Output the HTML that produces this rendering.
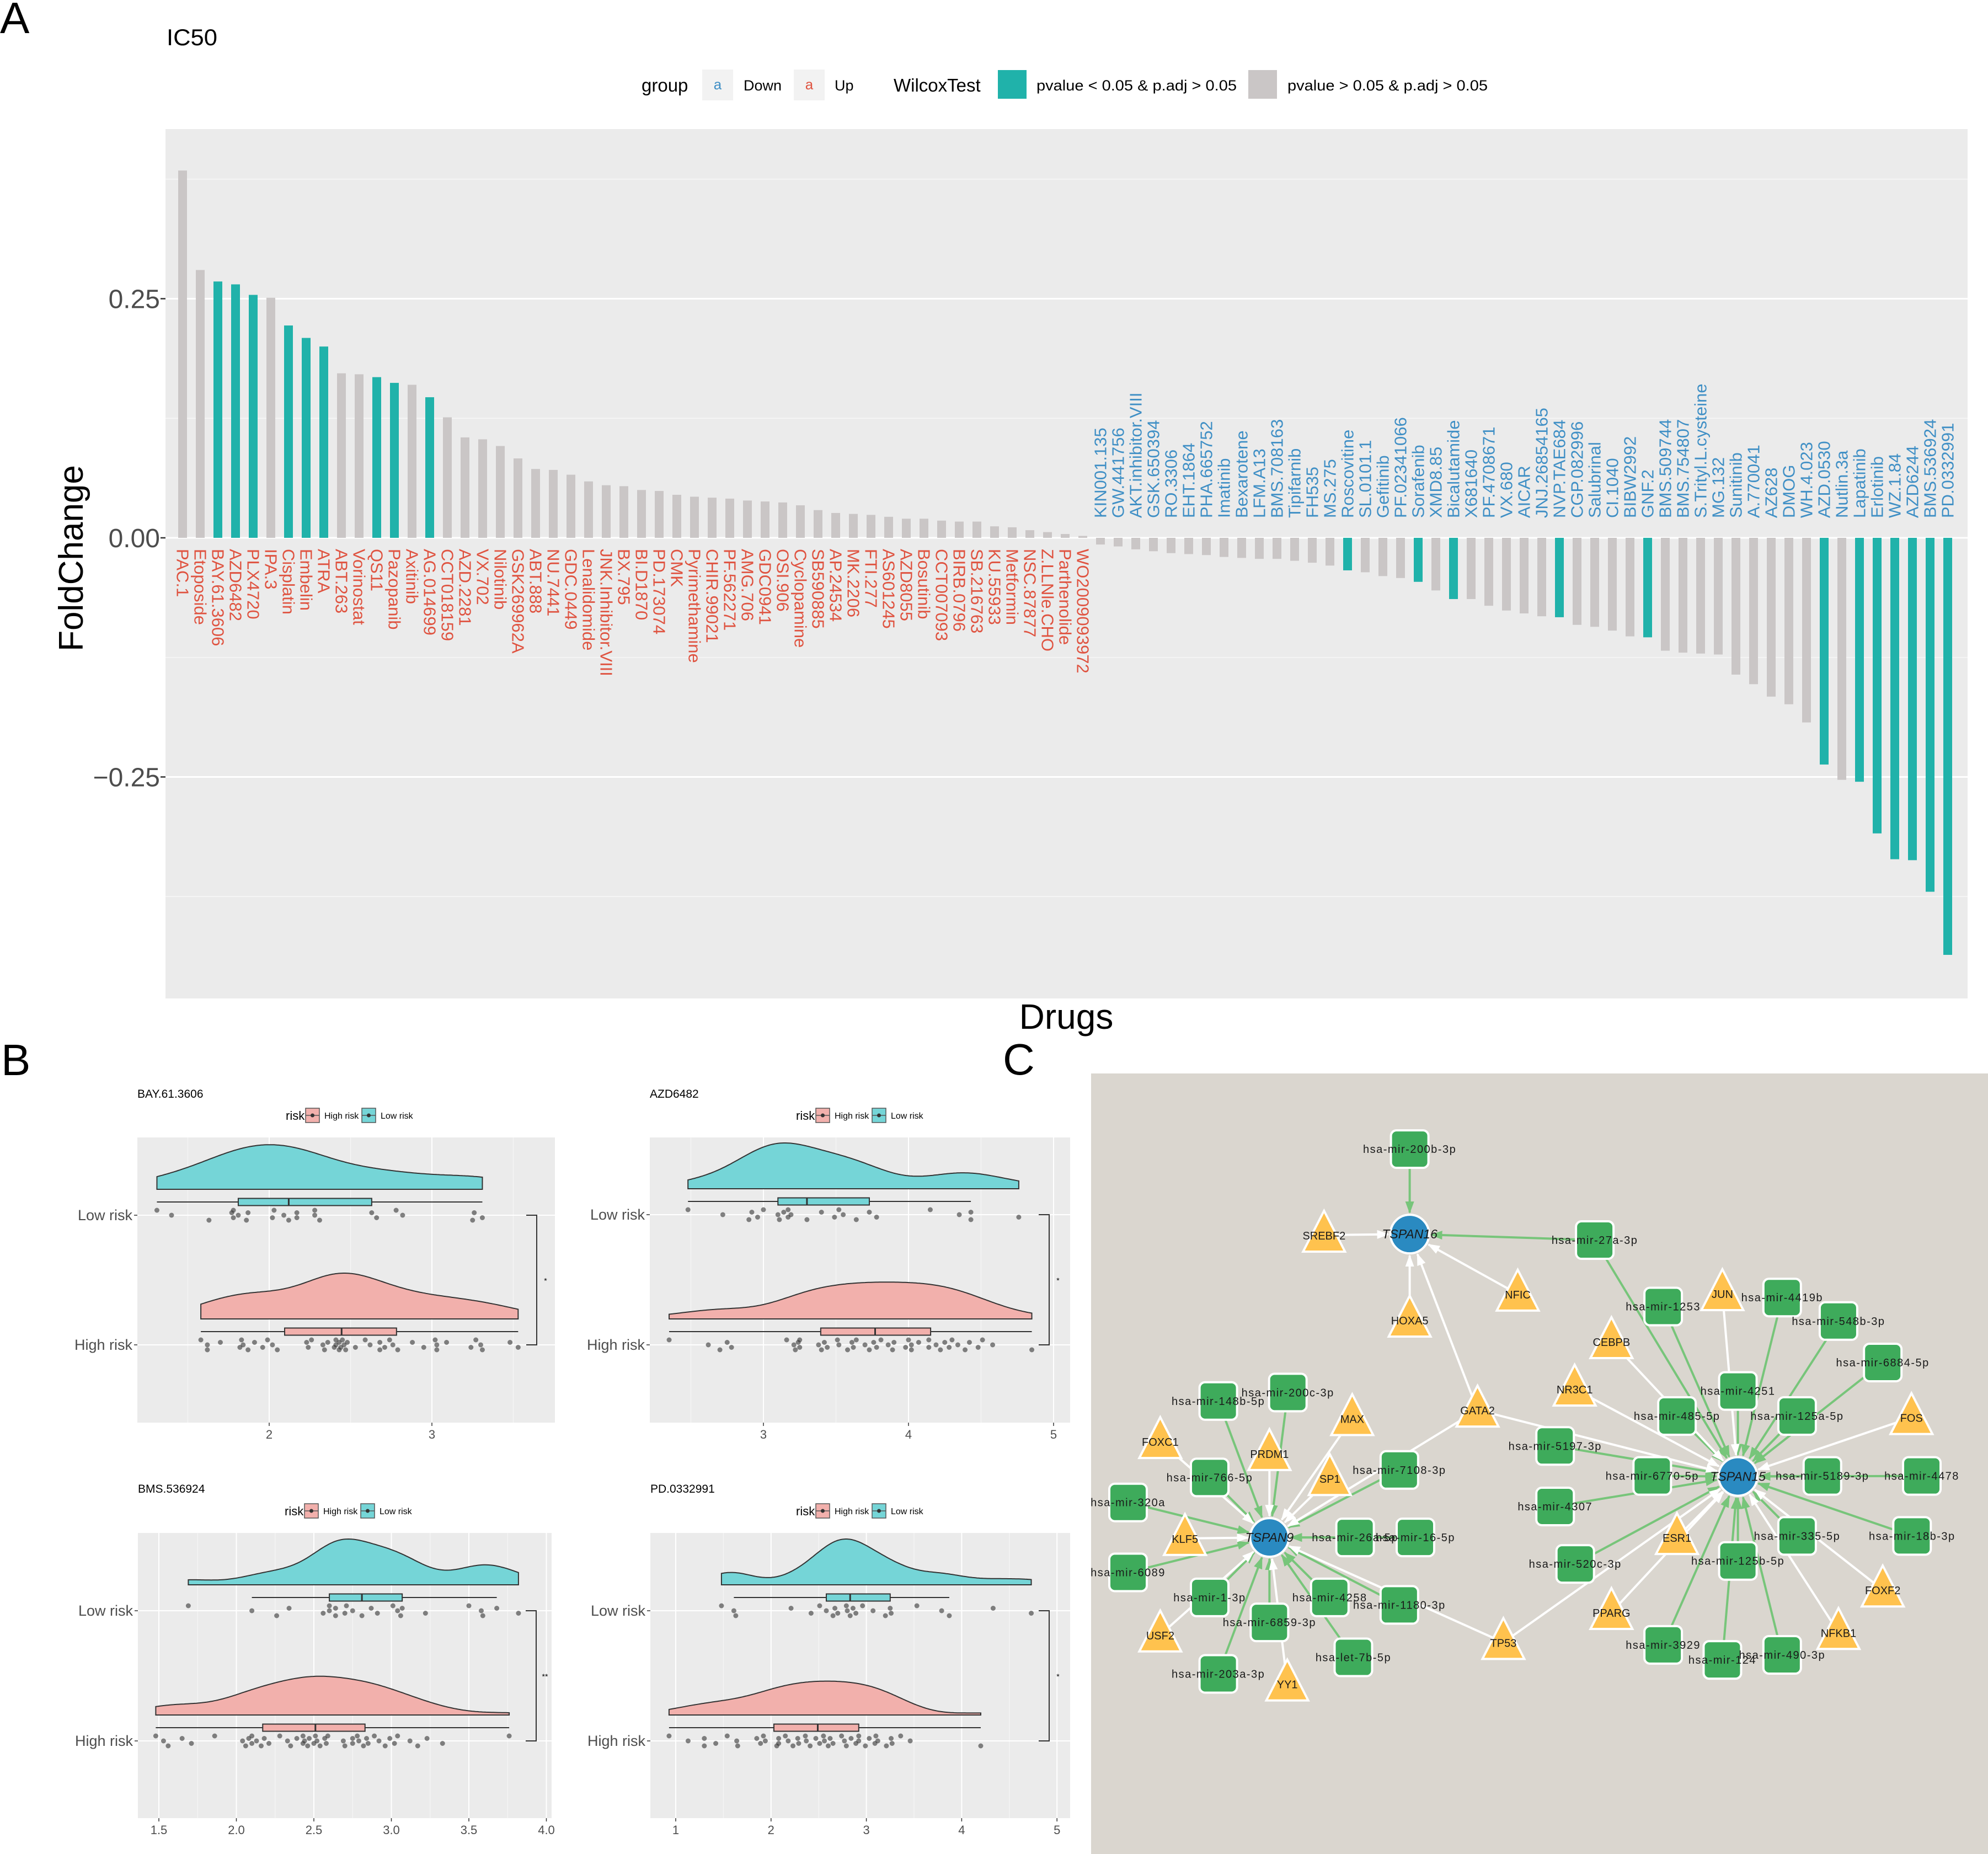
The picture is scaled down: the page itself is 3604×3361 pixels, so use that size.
<!DOCTYPE html>
<html><head><meta charset="utf-8">
<style>
html,body{margin:0;padding:0;background:#fff;}
svg{display:block;font-family:"Liberation Sans",Arial,sans-serif;}
</style></head>
<body>
<svg id="fig" width="3604" height="3361" viewBox="0 0 3604 3361" xmlns="http://www.w3.org/2000/svg">
<defs>
<marker id="arrG" markerUnits="userSpaceOnUse" markerWidth="22" markerHeight="16" refX="20" refY="8" orient="auto"><path d="M0,0 L22,8 L0,16 Z" fill="#77C57A"/></marker>
<marker id="arrW" markerUnits="userSpaceOnUse" markerWidth="22" markerHeight="16" refX="20" refY="8" orient="auto"><path d="M0,0 L22,8 L0,16 Z" fill="#ffffff"/></marker>
</defs>
<text x="0" y="60" font-size="80">A</text>
<text x="2" y="1949" font-size="80">B</text>
<text x="1818" y="1948" font-size="80">C</text>
<text x="302" y="82" font-size="42" textLength="92" lengthAdjust="spacingAndGlyphs">IC50</text>
</svg>
<script>
// ---------------- Panel A data ----------------
const drugs = ["PAC.1","Etoposide","BAY.61.3606","AZD6482","PLX4720","IPA.3","Cisplatin","Embelin","ATRA","ABT.263","Vorinostat","QS11","Pazopanib","Axitinib","AG.014699","CCT018159","AZD.2281","VX.702","Nilotinib","GSK269962A","ABT.888","NU.7441","GDC.0449","Lenalidomide","JNK.Inhibitor.VIII","BX.795","BI.D1870","PD.173074","CMK","Pyrimethamine","CHIR.99021","PF.562271","AMG.706","GDC0941","OSI.906","Cyclopamine","SB590885","AP.24534","MK.2206","FTI.277","AS601245","AZD8055","Bosutinib","CCT007093","BIRB.0796","SB.216763","KU.55933","Metformin","NSC.87877","Z.LLNle.CHO","Parthenolide","WO2009093972",
"KIN001.135","GW.441756","AKT.inhibitor.VIII","GSK.650394","RO.3306","EHT.1864","PHA.665752","Imatinib","Bexarotene","LFM.A13","BMS.708163","Tipifarnib","FH535","MS.275","Roscovitine","SL.0101.1","Gefitinib","PF.02341066","Sorafenib","XMD8.85","Bicalutamide","X681640","PF.4708671","VX.680","AICAR","JNJ.26854165","NVP.TAE684","CGP.082996","Salubrinal","CI.1040","BIBW2992","GNF.2","BMS.509744","BMS.754807","S.Trityl.L.cysteine","MG.132","Sunitinib","A.770041","AZ628","DMOG","WH.4.023","AZD.0530","Nutlin.3a","Lapatinib","Erlotinib","WZ.1.84","AZD6244","BMS.536924","PD.0332991"];
const foldChange = [0.384,0.28,0.268,0.265,0.254,0.251,0.222,0.209,0.2,0.172,0.171,0.168,0.162,0.16,0.147,0.126,0.105,0.103,0.096,0.083,0.072,0.071,0.066,0.059,0.055,0.054,0.05,0.049,0.045,0.043,0.042,0.041,0.039,0.038,0.037,0.034,0.029,0.026,0.025,0.024,0.022,0.02,0.02,0.018,0.017,0.017,0.012,0.011,0.008,0.006,0.004,0.002,
-0.007,-0.009,-0.012,-0.014,-0.016,-0.017,-0.018,-0.02,-0.021,-0.022,-0.022,-0.024,-0.026,-0.029,-0.034,-0.036,-0.04,-0.042,-0.046,-0.055,-0.064,-0.064,-0.071,-0.076,-0.079,-0.082,-0.083,-0.091,-0.093,-0.097,-0.103,-0.104,-0.118,-0.12,-0.121,-0.122,-0.143,-0.153,-0.166,-0.174,-0.193,-0.237,-0.253,-0.255,-0.309,-0.336,-0.337,-0.37,-0.436];
const wilcoxSig = [0,0,1,1,1,0,1,1,1,0,0,1,1,0,1,0,0,0,0,0,0,0,0,0,0,0,0,0,0,0,0,0,0,0,0,0,0,0,0,0,0,0,0,0,0,0,0,0,0,0,0,0,
0,0,0,0,0,0,0,0,0,0,0,0,0,0,1,0,0,0,1,0,1,0,0,0,0,0,1,0,0,0,0,1,0,0,0,0,0,0,0,0,0,1,0,1,1,1,1,1,1];
const yTicksA = [0.25, 0, -0.25];
const yTickLabelsA = ["0.25","0.00","\u22120.25"];
const yMinorA = [0.375, 0.125, -0.125, -0.375];

// ---------------- Panel B data ----------------
const bayLow = [1.31,1.40,1.63,1.77,1.78,1.78,1.81,1.86,1.87,2.02,2.03,2.09,2.12,2.17,2.17,2.28,2.28,2.31,2.63,2.66,2.78,2.82,3.25,3.26,3.31];
const bayHigh = [1.58,1.62,1.62,1.70,1.82,1.83,1.84,1.87,1.91,1.96,1.99,2.02,2.05,2.23,2.24,2.26,2.33,2.34,2.36,2.40,2.41,2.41,2.43,2.43,2.44,2.45,2.46,2.47,2.48,2.53,2.59,2.62,2.68,2.68,2.71,2.74,2.76,2.79,2.88,2.95,3.02,3.03,3.03,3.09,3.24,3.27,3.30,3.31,3.48,3.53];
const azdLow = [2.48,2.72,2.90,2.92,2.96,3.00,3.10,3.11,3.14,3.17,3.17,3.19,3.30,3.40,3.49,3.52,3.55,3.64,3.73,3.78,4.15,4.35,4.43,4.43,4.76];
const azdHigh = [2.35,2.62,2.70,2.75,2.78,3.16,3.21,3.22,3.24,3.25,3.25,3.38,3.40,3.42,3.44,3.51,3.52,3.58,3.61,3.62,3.64,3.70,3.73,3.76,3.78,3.81,3.86,3.89,3.90,3.98,4.00,4.02,4.02,4.07,4.14,4.14,4.19,4.22,4.25,4.28,4.30,4.34,4.39,4.42,4.48,4.51,4.58,4.85];
const bmsLow = [1.69,2.10,2.26,2.34,2.56,2.60,2.60,2.64,2.64,2.70,2.71,2.75,2.81,2.87,2.91,3.01,3.04,3.06,3.07,3.22,3.50,3.58,3.59,3.68,3.82];
const bmsHigh = [1.48,1.53,1.56,1.65,1.71,1.86,2.04,2.06,2.08,2.10,2.10,2.13,2.16,2.18,2.21,2.28,2.33,2.35,2.39,2.43,2.43,2.44,2.46,2.47,2.50,2.51,2.52,2.54,2.57,2.58,2.59,2.69,2.70,2.75,2.75,2.78,2.79,2.82,2.84,2.85,2.89,2.92,2.96,2.99,3.02,3.04,3.12,3.17,3.23,3.33,3.76];
const pdLow = [1.48,1.61,1.63,2.21,2.42,2.51,2.58,2.65,2.67,2.70,2.79,2.80,2.83,2.86,2.89,2.96,3.07,3.20,3.25,3.26,3.53,3.79,3.87,4.33,4.73];
const pdHigh = [0.93,1.13,1.30,1.30,1.42,1.54,1.64,1.65,1.85,1.89,1.92,1.94,2.06,2.08,2.08,2.15,2.18,2.23,2.28,2.29,2.36,2.37,2.41,2.47,2.51,2.55,2.56,2.60,2.62,2.65,2.74,2.77,2.79,2.84,2.89,2.92,2.92,2.99,3.03,3.09,3.10,3.12,3.21,3.26,3.27,3.36,3.46,4.20];
const bayTicks = [2,3];
const azdTicks = [3,4,5];
const bmsTicks = [1.5,2.0,2.5,3.0,3.5,4.0];
const pdTicks = [1,2,3,4,5];
const sigLabels = ["*","*","**","*"];
const riskLabels = ["Low risk","High risk"];

// ---------------- helpers ----------------
const NS='http://www.w3.org/2000/svg';
const svg=document.getElementById('fig');
function mk(tag, attrs, parent){const e=document.createElementNS(NS,tag); for(const k in attrs) e.setAttribute(k,attrs[k]); (parent||svg).appendChild(e); return e;}
function tx(s, attrs, parent){const e=mk('text',attrs,parent); e.textContent=s; return e;}

// ---------------- Panel A ----------------
const A = {x0:300, x1:3567, y0:234, y1:1810, zero:975, ppu:1734, bx0:331, step:32.0};
const xA = i => A.bx0 + i*A.step;
const yA = v => A.zero - v*A.ppu;
const gA = mk('g',{});


const bgA = mk('rect',{x:A.x0,y:A.y0,width:A.x1-A.x0,height:A.y1-A.y0,fill:'#EBEBEB'},gA);


yMinorA.forEach(v=>{
  const l=mk('line',{x1:A.x0,x2:A.x1,y1:yA(v),y2:yA(v),stroke:'#F7F7F7','stroke-width':1.5},gA);
  
  
});
yTicksA.forEach((v,k)=>{
  const l=mk('line',{x1:A.x0,x2:A.x1,y1:yA(v),y2:yA(v),stroke:'#FFFFFF','stroke-width':3},gA);
  
  
  const t=mk('line',{x1:A.x0-9,x2:A.x0,y1:yA(v),y2:yA(v),stroke:'#333','stroke-width':2.5},gA);
  
  
  const lab=tx(yTickLabelsA[k],{x:A.x0-10,y:yA(v)+17,'font-size':48,'text-anchor':'end',fill:'#4D4D4D'},gA);
  
  
});
foldChange.forEach((v,i)=>{
  const y0=yA(0), y1=yA(v);
  const r=mk('rect',{x:xA(i)-8,y:Math.min(y0,y1),width:16,height:Math.abs(y1-y0),fill:wilcoxSig[i]?'#20B2AA':'#CAC6C6'},gA);
  
  
  let t;
  if(v>=0){
    t=tx(drugs[i],{x:xA(i),y:A.zero+20,'font-size':31,fill:'#DF5340','dominant-baseline':'central','text-anchor':'start',transform:`rotate(90 ${xA(i)} ${A.zero+20})`},gA);
  } else {
    t=tx(drugs[i],{x:xA(i),y:A.zero-36,'font-size':31,fill:'#3F8FC5','dominant-baseline':'central','text-anchor':'start',transform:`rotate(-90 ${xA(i)} ${A.zero-36})`},gA);
  }
  
  
});
const ytA=tx('FoldChange',{x:150,y:1012,'font-size':62,'text-anchor':'middle',transform:'rotate(-90 150 1012)'},gA);


const xtA=tx('Drugs',{x:1933,y:1865,'font-size':64,'text-anchor':'middle'},gA);



// legend
const gL=mk('g',{});


const lg1=tx('group',{x:1163,y:166,'font-size':33},gL);


[[1273,'#3F8FC5','Down',1348],[1439,'#DF5340','Up',1513]].forEach(d=>{
  const b=mk('rect',{x:d[0],y:126,width:56,height:56,fill:'#F2F2F2'},gL);
  
  
  const a=tx('a',{x:d[0]+28,y:162,'font-size':26,'text-anchor':'middle',fill:d[1]},gL);
  
  
  const t=tx(d[2],{x:d[3],y:164,'font-size':27},gL);
  
  
});
const lg2=tx('WilcoxTest',{x:1620,y:166,'font-size':33},gL);


[[1809,'#20B2AA','pvalue < 0.05 & p.adj > 0.05',1879],[2263,'#CAC6C6','pvalue > 0.05 & p.adj > 0.05',2334]].forEach((d,k)=>{
  const b=mk('rect',{x:d[0],y:127,width:52,height:52,fill:d[1]},gL);
  
  
  const t=tx(d[2],{x:d[3],y:164,'font-size':27,textLength:363,lengthAdjust:'spacingAndGlyphs'},gL);
  
  
});

// ---------------- Panel B ----------------
function quant(s,p){const h=(s.length-1)*p, lo=Math.floor(h), hi=Math.ceil(h); return s[lo]+(s[hi]-s[lo])*(h-lo);}
function stats(arr){
  const s=[...arr].sort((a,b)=>a-b);
  const q1=quant(s,.25), q2=quant(s,.5), q3=quant(s,.75), iqr=q3-q1;
  const lo=s.find(v=>v>=q1-1.5*iqr), hi=[...s].reverse().find(v=>v<=q3+1.5*iqr);
  const n=s.length, mean=s.reduce((a,b)=>a+b,0)/n;
  const sd=Math.sqrt(s.reduce((a,b)=>a+(b-mean)**2,0)/(n-1));
  const bw=0.9*Math.min(sd,iqr/1.34)*Math.pow(n,-0.2);
  return {s,q1,q2,q3,lo,hi,bw,min:s[0],max:s[n-1]};
}
function dens(st,x){let t=0; for(const v of st.s){const z=(x-v)/st.bw; t+=Math.exp(-0.5*z*z);} return t/(st.s.length*st.bw*Math.sqrt(2*Math.PI));}

const panelsB = [
  {name:'BAY.61.3606', low:bayLow, high:bayHigh, ticks:bayTicks, px0:249, px1:1006, py0:2062, py1:2579, tv0:2, tp0:488, ppu:295, yLow:2203, yHigh:2438, titleY:1990, legY:2022, legX:518, brX:973, sig:sigLabels[0], fmt:v=>String(v)},
  {name:'AZD6482', low:azdLow, high:azdHigh, ticks:azdTicks, px0:1178, px1:1940, py0:2062, py1:2579, tv0:3, tp0:1384, ppu:263, yLow:2202, yHigh:2438, titleY:1990, legY:2022, legX:1443, brX:1902, sig:sigLabels[1], fmt:v=>String(v)},
  {name:'BMS.536924', low:bmsLow, high:bmsHigh, ticks:bmsTicks, px0:250, px1:1000, py0:2779, py1:3296, tv0:1.5, tp0:288, ppu:281, yLow:2920, yHigh:3156, titleY:2706, legY:2739, legX:516, brX:972, sig:sigLabels[2], fmt:v=>v.toFixed(1)},
  {name:'PD.0332991', low:pdLow, high:pdHigh, ticks:pdTicks, px0:1179, px1:1940, py0:2779, py1:3296, tv0:1, tp0:1225, ppu:172.8, yLow:2920, yHigh:3156, titleY:2706, legY:2739, legX:1443, brX:1902, sig:sigLabels[3], fmt:v=>String(v)}
];
panelsB.forEach((P,pi)=>{
  const g=mk('g',{});
  
  
  const X=v=>P.tp0+(v-P.tv0)*P.ppu;
  const t=tx(P.name,{x:P.px0,y:P.titleY,'font-size':21},g);
  
  
  const lr=tx('risk',{x:P.legX,y:P.legY+8,'font-size':22},g);
  
  
  [[P.legX+36,'#F2B0AC','#F8766D','High risk'],[P.legX+138,'#75D5D7','#00BFC4','Low risk']].forEach(d=>{
    const b=mk('rect',{x:d[0],y:P.legY-13,width:25,height:26,fill:d[1],stroke:'#555','stroke-width':1.5},g);
    
    
    mk('line',{x1:d[0],x2:d[0]+25,y1:P.legY,y2:P.legY,stroke:'#555','stroke-width':1.5},g);
    mk('circle',{cx:d[0]+12.5,cy:P.legY,r:3.5,fill:'#333'},g);
    const lt=tx(d[3],{x:d[0]+34,y:P.legY+6,'font-size':16},g);
    
    
  });
  const bg=mk('rect',{x:P.px0,y:P.py0,width:P.px1-P.px0,height:P.py1-P.py0,fill:'#EBEBEB'},g);
  
  
  const step=P.ticks[1]-P.ticks[0];
  const minors=[P.ticks[0]-step/2].concat(P.ticks.map(v=>v+step/2));
  minors.forEach(v=>{const x=X(v); if(x>P.px0&&x<P.px1) mk('line',{x1:x,x2:x,y1:P.py0,y2:P.py1,stroke:'#F6F6F6','stroke-width':1.2},g);});
  P.ticks.forEach(v=>{
    const x=X(v);
    mk('line',{x1:x,x2:x,y1:P.py0,y2:P.py1,stroke:'#fff','stroke-width':2},g);
    mk('line',{x1:x,x2:x,y1:P.py1,y2:P.py1+6,stroke:'#333','stroke-width':1.5},g);
    const tl=tx(P.fmt(v),{x:x,y:P.py1+29,'font-size':22,'text-anchor':'middle',fill:'#4D4D4D'},g);
    
    
  });
  [P.yLow,P.yHigh].forEach((y,k)=>{
    mk('line',{x1:P.px0,x2:P.px1,y1:y,y2:y,stroke:'#fff','stroke-width':2},g);
    mk('line',{x1:P.px0-6,x2:P.px0,y1:y,y2:y,stroke:'#333','stroke-width':1.5},g);
    const yl=tx(riskLabels[k],{x:P.px0-9,y:y+9,'font-size':27,'text-anchor':'end',fill:'#4D4D4D'},g);
    
    
  });
  const sL=stats(P.low), sH=stats(P.high);
  let gmax=0;
  [sL,sH].forEach(st=>{for(let k=0;k<=200;k++){const x=st.min+(st.max-st.min)*k/200; gmax=Math.max(gmax,dens(st,x));}});
  [[sL,P.yLow,'#75D5D7','low-risk'],[sH,P.yHigh,'#F2B0AC','high-risk']].forEach(([st,yc,fill,nm])=>{
    const base=yc-47;
    let d=`M${X(st.min)},${base}`;
    for(let k=0;k<=200;k++){const v=st.min+(st.max-st.min)*k/200; d+=` L${X(v).toFixed(1)},${(base-dens(st,v)/gmax*83).toFixed(1)}`;}
    d+=` L${X(st.max)},${base} Z`;
    const p=mk('path',{d:d,fill:fill,stroke:'#333','stroke-width':2},g);
    
    
    const bc=yc-24;
    mk('line',{x1:X(st.lo),x2:X(st.hi),y1:bc,y2:bc,stroke:'#333','stroke-width':2},g);
    const bx=mk('rect',{x:X(st.q1),y:bc-6.5,width:X(st.q3)-X(st.q1),height:13,fill:fill,stroke:'#333','stroke-width':2},g);
    
    
    mk('line',{x1:X(st.q2),x2:X(st.q2),y1:bc-6.5,y2:bc+6.5,stroke:'#333','stroke-width':3},g);
    const src = nm==='low-risk'?P.low:P.high;
    src.forEach((v,i)=>{
      const jit=((i*7)%5-2)*4.5;
      const c=mk('circle',{cx:X(v),cy:yc+jit,r:4.5,fill:'#333','fill-opacity':0.6},g);
      
      
    });
  });
  const br=mk('path',{d:`M${P.brX-19},${P.yLow} L${P.brX},${P.yLow} L${P.brX},${P.yHigh} L${P.brX-19},${P.yHigh}`,fill:'none',stroke:'#333','stroke-width':2},g);
  
  
  const st=tx(P.sig,{x:P.brX+16,y:(P.yLow+P.yHigh)/2+6,'font-size':14,'text-anchor':'middle'},g);
  
  
});

// ---------------- Panel C network ----------------
const gC=mk('g',{});


const bgC=mk('rect',{x:1978,y:1946,width:1626,height:1415,fill:'#DAD6CF'},gC);


const MX=zx=>1970+zx*1.042, MY=zy=>1940+zy*0.906;
const nodes={
 'TSPAN16':['c',562,328],'TSPAN15':['c',1133,813],'TSPAN9':['c',318,935],
 'hsa-mir-200b-3p':['s',562,158],'hsa-mir-27a-3p':['s',884,340],'hsa-mir-1253':['s',1003,473],'hsa-mir-4419b':['s',1210,455],'hsa-mir-548b-3p':['s',1308,502],'hsa-mir-6884-5p':['s',1385,585],'hsa-mir-4251':['s',1133,642],'hsa-mir-485-5p':['s',1027,692],'hsa-mir-125a-5p':['s',1236,692],'hsa-mir-5197-3p':['s',815,752],'hsa-mir-6770-5p':['s',984,812],'hsa-mir-5189-3p':['s',1280,812],'hsa-mir-4478':['s',1453,812],'hsa-mir-4307':['s',815,873],'hsa-mir-335-5p':['s',1236,932],'hsa-mir-18b-3p':['s',1436,932],'hsa-mir-520c-3p':['s',850,988],'hsa-mir-125b-5p':['s',1133,982],'hsa-mir-3929':['s',1003,1150],'hsa-mir-124':['s',1106,1180],'hsa-mir-490-3p':['s',1210,1170],
 'hsa-mir-148b-5p':['s',229,662],'hsa-mir-200c-3p':['s',350,645],'hsa-mir-766-5p':['s',214,815],'hsa-mir-7108-3p':['s',544,800],'hsa-mir-320a':['s',72,865],'hsa-mir-26a-5p':['s',467,935],'hsa-mir-16-5p':['s',572,935],'hsa-mir-6089':['s',72,1005],'hsa-mir-1-3p':['s',214,1055],'hsa-mir-4258':['s',423,1055],'hsa-mir-1180-3p':['s',544,1070],'hsa-mir-6859-3p':['s',318,1105],'hsa-let-7b-5p':['s',464,1175],'hsa-mir-203a-3p':['s',229,1208],
 'SREBF2':['t',413,330],'HOXA5':['t',562,500],'NFIC':['t',750,448],'JUN':['t',1106,447],'CEBPB':['t',913,543],'NR3C1':['t',849,638],'GATA2':['t',680,680],'FOS':['t',1435,695],'ESR1':['t',1027,935],'FOXF2':['t',1385,1040],'PPARG':['t',913,1085],'NFKB1':['t',1308,1125],'TP53':['t',725,1145],'FOXC1':['t',128,743],'PRDM1':['t',318,767],'MAX':['t',462,697],'SP1':['t',423,817],'KLF5':['t',171,937],'USF2':['t',128,1130],'YY1':['t',349,1228]
};
const edges16 = ['hsa-mir-200b-3p','hsa-mir-27a-3p','SREBF2','NFIC','HOXA5','GATA2'];
const edges15 = ['hsa-mir-27a-3p','hsa-mir-1253','hsa-mir-4419b','hsa-mir-548b-3p','hsa-mir-6884-5p','hsa-mir-4251','hsa-mir-485-5p','hsa-mir-125a-5p','hsa-mir-5197-3p','hsa-mir-6770-5p','hsa-mir-4307','hsa-mir-5189-3p','hsa-mir-4478','hsa-mir-18b-3p','hsa-mir-335-5p','hsa-mir-125b-5p','hsa-mir-3929','hsa-mir-124','hsa-mir-490-3p','hsa-mir-520c-3p','JUN','CEBPB','NR3C1','FOS','GATA2','ESR1','FOXF2','NFKB1','PPARG','TP53'];
const edges9 = ['hsa-mir-148b-5p','hsa-mir-200c-3p','hsa-mir-766-5p','hsa-mir-7108-3p','hsa-mir-320a','hsa-mir-26a-5p','hsa-mir-16-5p','hsa-mir-6089','hsa-mir-1-3p','hsa-mir-4258','hsa-mir-1180-3p','hsa-mir-6859-3p','hsa-let-7b-5p','hsa-mir-203a-3p','FOXC1','PRDM1','MAX','SP1','KLF5','USF2','YY1','GATA2','TP53'];
const gE=mk('g',{},gC);


[['TSPAN16',edges16],['TSPAN15',edges15],['TSPAN9',edges9]].forEach(([tgt,srcs])=>{
  const T=nodes[tgt]; const tx2=MX(T[1]), ty2=MY(T[2]);
  srcs.forEach(sn=>{
    const S=nodes[sn]; const sx=MX(S[1]), sy=MY(S[2]);
    const dx=tx2-sx, dy=ty2-sy, L=Math.hypot(dx,dy);
    const ex=tx2-dx/L*39, ey=ty2-dy/L*39;
    const green=S[0]==='s';
    const l=mk('line',{x1:sx,y1:sy,x2:ex,y2:ey,stroke:green?'#77C57A':'#FFFFFF','stroke-width':4,'marker-end':green?'url(#arrG)':'url(#arrW)'},gE);
    
    
  });
});
const gN=mk('g',{},gC);


const gT=mk('g',{},gC);


for(const nm in nodes){
  const [tp,zx,zy]=nodes[nm]; const x=MX(zx), y=MY(zy);
  let el, lab;
  if(tp==='c'){
    el=mk('circle',{cx:x,cy:y,r:35,fill:'#2A8AC1',stroke:'#fff','stroke-width':4},gN);
    lab=tx(nm,{x:x,y:y+8,'font-size':23,'font-style':'italic','text-anchor':'middle',fill:'#1a1a1a'},gT);
  } else if(tp==='s'){
    el=mk('rect',{x:x-34,y:y-34,width:68,height:68,rx:10,fill:'#3EAB5B',stroke:'#fff','stroke-width':4},gN);
    lab=tx(nm,{x:x,y:y+7,'font-size':20,'letter-spacing':1.5,'text-anchor':'middle',fill:'#1a1a1a'},gT);
  } else {
    el=mk('path',{d:`M${x},${y-44} L${x+38},${y+30} L${x-38},${y+30} Z`,fill:'#FFC24E',stroke:'#fff','stroke-width':4,'stroke-linejoin':'miter'},gN);
    lab=tx(nm,{x:x,y:y+8,'font-size':20,'text-anchor':'middle',fill:'#1a1a1a'},gT);
  }
  
  
  
  
}
</script>
</body></html>
